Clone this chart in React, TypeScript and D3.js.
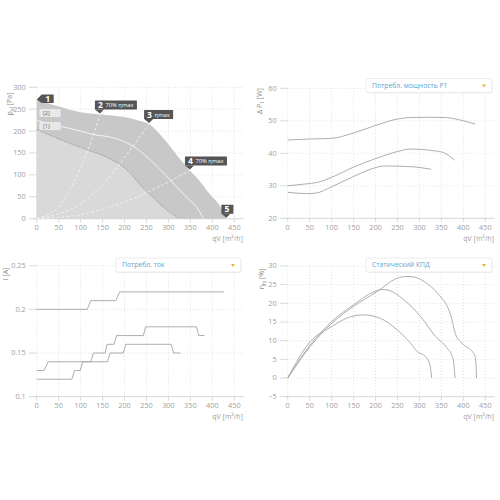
import React from "react";
import * as d3 from "d3";

// ---------- data ----------
const qTicks = [0, 50, 100, 150, 200, 250, 300, 350, 400, 450];

// pressure chart
const pTicks = [0, 50, 100, 150, 200, 250, 300];
const maxQ = [0, 50, 100, 145, 200, 235, 256, 281, 304, 327, 349, 372, 395, 418, 432];
const maxP = [272, 256, 243, 238, 232, 223, 216, 192, 165, 135, 110, 85, 55, 28, 0];
const midQ = [0, 50, 100, 130, 165, 197, 228, 260, 298, 337, 365, 380];
const midP = [224, 212, 200, 192, 187, 177, 160, 133, 95, 53, 25, 0];
const minQ = [0, 60, 110, 160, 195, 213, 235, 266, 290, 310, 325];
const minP = [204, 178, 159, 140, 120, 104, 78, 48, 25, 10, 0];
const sys2Q = [0, 40, 80, 118, 144];
const sys2P = [0, 18, 74, 160, 238];
const sys3Q = [0, 80, 150, 200, 256];
const sys3P = [0, 22, 78, 140, 216];
const sys4Q = [0, 100, 200, 280, 349];
const sys4P = [0, 9, 38, 74, 110];
const markerIds = ["1", "2", "3", "4", "5"];
const markerText = ["", "70% ηmax", "ηmax", "70% ηmax", ""];
const markerQ = [0, 144, 256, 349, 432];
const markerP = [272, 238, 216, 110, 0];

// power chart
const wTicks = [20, 30, 40, 50, 60];
const wTopQ = [0, 51, 100, 149, 203, 252, 279, 320, 360, 400, 427];
const wTopV = [44.1, 44.4, 44.6, 46.2, 48.7, 50.6, 51.0, 51.1, 51.0, 50.0, 49.0];
const wMidQ = [0, 43, 66, 100, 149, 203, 249, 279, 332, 355, 380];
const wMidV = [30.0, 30.6, 31.0, 32.6, 35.7, 38.5, 40.5, 41.3, 40.8, 40.2, 37.9];
const wBotQ = [0, 43, 62, 100, 149, 203, 218, 279, 302, 327];
const wBotV = [28.0, 27.6, 27.7, 29.7, 32.8, 35.7, 36.1, 35.9, 35.6, 35.1];

// current chart
const iTicks = [0.1, 0.15, 0.2, 0.25];
const iTopQ = [0, 115, 123, 180, 189, 427];
const iTopV = [0.2, 0.2, 0.21, 0.21, 0.22, 0.22];
const iMidQ = [0, 17, 26, 123, 129, 156, 160, 176, 182, 243, 248, 364, 369, 382];
const iMidV = [0.13, 0.13, 0.14, 0.14, 0.15, 0.15, 0.16, 0.16, 0.17, 0.17, 0.18, 0.18, 0.17, 0.17];
const iBotQ = [0, 80, 86, 99, 105, 161, 167, 197, 203, 306, 312, 327];
const iBotV = [0.12, 0.12, 0.13, 0.13, 0.14, 0.14, 0.15, 0.15, 0.16, 0.16, 0.15, 0.15];

// efficiency chart
const eTicks = [-5, 0, 5, 10, 15, 20, 25, 30];
const eLgQ = [0, 51, 100, 149, 203, 249, 272, 290, 311, 341, 371, 383, 402, 421, 427, 429, 430];
const eLgV = [0, 8.4, 14.6, 19.1, 23.1, 26.7, 27.2, 27.0, 25.8, 22.7, 16.9, 11.5, 8.8, 7.0, 5.7, 3, 0];
const eMdQ = [0, 51, 100, 150, 196, 215, 226, 265, 303, 337, 364, 375, 379, 381];
const eMdV = [0, 8.8, 15.1, 19.6, 23.1, 23.7, 23.6, 20.9, 16.4, 11.1, 7.9, 5.7, 3, 0];
const eSmQ = [0, 51, 100, 143, 173, 211, 249, 280, 295, 314, 323, 326, 328];
const eSmV = [0, 9.7, 13.75, 16.4, 16.9, 16.0, 12.9, 9.3, 7.1, 5.7, 3.9, 2, 0];

// ---------- helpers ----------
const FONT = "'Open Sans', 'DejaVu Sans', sans-serif";
const TICK = "#a0a0a0";
const GRID = "#dadada";

type Sc = d3.ScaleLinear<number, number>;

function zip(q: number[], v: number[]) {
  return q.map((x, i) => [x, v[i]] as [number, number]);
}

function Axes({ x, y, yTicks, yFmt, yLabel, xLabelY, base }: {
  x: Sc; y: Sc; yTicks: number[]; yFmt: (v: number) => string;
  yLabel: React.ReactNode; xLabelY: number; base: number;
}) {
  const x0 = x(0);
  const xr = x(472);
  const [yb, yt] = y.range();
  return (
    <g fontFamily={FONT} fontSize={7.3} fill={TICK}>
      {qTicks.map((t) => (
        <line key={"vx" + t} x1={x(t)} x2={x(t)} y1={yt} y2={yb} stroke={GRID} strokeWidth={0.8} strokeDasharray="1,2" />
      ))}
      {yTicks.map((t) => (
        <g key={"hy" + t}>
          <line x1={x0} x2={xr} y1={y(t)} y2={y(t)} stroke={GRID} strokeWidth={0.8} strokeDasharray="1,2" />
          <line x1={x0 - 8} x2={x0} y1={y(t)} y2={y(t)} stroke="#d2d2d2" strokeWidth={0.8} />
          <text x={x0 - 11} y={y(t)} dy="0.33em" textAnchor="end">{yFmt(t)}</text>
        </g>
      ))}
      <line x1={x0 - 3} x2={xr} y1={y(base)} y2={y(base)} stroke="#d2d2d2" strokeWidth={0.8} />
      {qTicks.map((t) => (
        <g key={"tx" + t}>
          <line x1={x(t)} x2={x(t)} y1={y(base)} y2={y(base) + 4} stroke="#d2d2d2" strokeWidth={0.8} />
          <text x={x(t)} y={y(base) + 9} dy="0.33em" textAnchor="middle">{t}</text>
        </g>
      ))}
      <text x={xr - 1} y={xLabelY} textAnchor="end" fontSize={7}>qV [m³/h]</text>
      {yLabel}
    </g>
  );
}

function Dropdown({ x, y, w, label }: { x: number; y: number; w: number; label: string }) {
  return (
    <g fontFamily={FONT}>
      <rect x={x + 0.5} y={y + 1} width={w} height={14} rx={2} fill="#eeeeee" />
      <rect x={x} y={y} width={w} height={14} rx={2} fill="#ffffff" stroke="#e6e6e6" strokeWidth={0.8} />
      <text x={x + 6} y={y + 7} dy="0.35em" fontSize={6.8} fill="#5fa3cf">{label}</text>
      <path d={`M${x + w - 10},${y + 6} l4,0 l-2,3 z`} fill="#f0ad3c" />
    </g>
  );
}

function RotLabel({ x, y, main, sub, rest }: { x: number; y: number; main: string; sub: string; rest: string }) {
  return (
    <text transform={`translate(${x},${y}) rotate(-90)`} textAnchor="middle" fontSize={7} fill="#8a8a8a">
      {main}
      <tspan fontSize={5} dy={1.5}>{sub}</tspan>
      <tspan dy={-1.5}>{rest}</tspan>
    </text>
  );
}

export default function App() {
  const xL = d3.scaleLinear().domain([0, 450]).range([36.7, 234.3]);
  const xR = d3.scaleLinear().domain([0, 450]).range([287.7, 485.3]);
  const yP = d3.scaleLinear().domain([0, 300]).range([218.7, 87.3]);
  const yW = d3.scaleLinear().domain([20, 60]).range([218.3, 88.3]);
  const yI = d3.scaleLinear().domain([0.1, 0.25]).range([396.7, 265.7]);
  const yE = d3.scaleLinear().domain([-5, 30]).range([396.7, 266]);

  const areaP = (q: number[], p: number[]) =>
    d3.area<[number, number]>().x((d) => xL(d[0])).y0(yP(0)).y1((d) => yP(d[1])).curve(d3.curveMonotoneX)(zip(q, p)) || "";
  const lineP = (q: number[], p: number[], curve: d3.CurveFactory = d3.curveMonotoneX) =>
    d3.line<[number, number]>().x((d) => xL(d[0])).y((d) => yP(d[1])).curve(curve)(zip(q, p)) || "";
  const lineR = (y: Sc, q: number[], v: number[], curve: d3.CurveFactory) =>
    d3.line<[number, number]>().x((d) => xR(d[0])).y((d) => y(d[1])).curve(curve)(zip(q, v)) || "";
  const lineLI = (q: number[], v: number[]) =>
    d3.line<[number, number]>().x((d) => xL(d[0])).y((d) => yI(d[1]))(zip(q, v)) || "";

  const markerW: Record<string, number> = { "70% ηmax": 42, "ηmax": 29, "": 12 };

  const markers = markerIds.map((id, i) => {
    const px = xL(markerQ[i]);
    const py = yP(markerP[i]);
    if (i === 0) {
      return (
        <g key={id}>
          <path d={`M${px},${py} L${px + 5},${py - 5} L${px + 17},${py - 5} L${px + 17},${py + 3.5} L${px + 5},${py + 3.5} Z`} fill="#555" />
          <text x={px + 11} y={py - 0.7} dy="0.35em" textAnchor="middle" fontSize={8.5} fontWeight="bold" fill="#fff">{id}</text>
        </g>
      );
    }
    const txt = markerText[i];
    const w = markerW[txt];
    const bx = px - 5;
    const by = py - 14;
    return (
      <g key={id}>
        <rect x={bx} y={by} width={w} height={9} fill="#555" rx={0.5} />
        <path d={`M${bx},${by + 9} L${bx + 9},${by + 9} L${px},${py - 1} Z`} fill="#555" />
        <text x={bx + 3} y={by + 4.7} dy="0.35em" fontSize={8.5} fontWeight="bold" fill="#fff">{id}</text>
        {txt && <text x={bx + 10.5} y={by + 4.7} dy="0.35em" fontSize={5.8} fill="#fff">{txt}</text>}
      </g>
    );
  });

  return (
    <svg width={500} height={500} style={{ position: "absolute", left: 0, top: 0 }} fontFamily={FONT}>
      <rect width={500} height={500} fill="#fff" />

      {/* ---------- pressure chart ---------- */}
      <Axes x={xL} y={yP} yTicks={pTicks} yFmt={(v) => String(v)} base={0} xLabelY={241}
        yLabel={<RotLabel x={12} y={104} main="p" sub="sf" rest=" [Pa]" />} />
      <path d={areaP(maxQ, maxP)} fill="#c8c8c8" />
      <path d={areaP(minQ, minP)} fill="#d9d9d9" />
      <path d={lineP(minQ, minP)} fill="none" stroke="#9d9d9d" strokeWidth={0.9} strokeDasharray="2,1" />
      <path d={lineP(midQ, midP)} fill="none" stroke="#f4f4f4" strokeWidth={1} />
      {[[sys2Q, sys2P], [sys3Q, sys3P], [sys4Q, sys4P]].map(([q, p], i) => (
        <path key={i} d={lineP(q, p, d3.curveCatmullRom)} fill="none" stroke="#f2f2f2" strokeWidth={0.9} strokeDasharray="3,2" />
      ))}
      <g fontFamily={FONT}>
        <rect x={39.3} y={109} width={21.5} height={8} rx={1.5} fill="#e8e8e8" />
        <text x={43} y={113} dy="0.35em" fontSize={5.5} fill="#666">[2]</text>
        <rect x={39.3} y={122} width={21.5} height={8} rx={1.5} fill="#e8e8e8" />
        <text x={43} y={126} dy="0.35em" fontSize={5.5} fill="#666">[1]</text>
      </g>
      {markers}

      {/* ---------- power chart ---------- */}
      <Axes x={xR} y={yW} yTicks={wTicks} yFmt={(v) => String(v)} base={20} xLabelY={241}
        yLabel={<RotLabel x={262} y={101} main="Δ P" sub="1" rest=" [W]" />} />
      {[[wTopQ, wTopV], [wMidQ, wMidV], [wBotQ, wBotV]].map(([q, v], i) => (
        <path key={i} d={lineR(yW, q, v, d3.curveMonotoneX)} fill="none" stroke="#a5a5a5" strokeWidth={0.9} />
      ))}
      <Dropdown x={366} y={78.5} w={126} label="Потребл. мощность P1" />

      {/* ---------- current chart ---------- */}
      <Axes x={xL} y={yI} yTicks={iTicks} yFmt={(v) => String(v)} base={0.1} xLabelY={419}
        yLabel={<RotLabel x={8} y={274} main="I [A]" sub="" rest="" />} />
      {[[iTopQ, iTopV], [iMidQ, iMidV], [iBotQ, iBotV]].map(([q, v], i) => (
        <path key={i} d={lineLI(q, v)} fill="none" stroke="#a5a5a5" strokeWidth={0.9} />
      ))}
      <Dropdown x={116} y={258} w={125} label="Потребл. ток" />

      {/* ---------- efficiency chart ---------- */}
      <Axes x={xR} y={yE} yTicks={eTicks} yFmt={(v) => String(v).replace("-", "−")} base={-5} xLabelY={419}
        yLabel={<RotLabel x={264} y={279} main="η" sub="fs" rest=" [%]" />} />
      {[[eLgQ, eLgV], [eMdQ, eMdV], [eSmQ, eSmV]].map(([q, v], i) => (
        <path key={i} d={lineR(yE, q, v, d3.curveMonotoneX)} fill="none" stroke="#a5a5a5" strokeWidth={0.9} />
      ))}
      <Dropdown x={366} y={258} w={126} label="Статический КПД" />
    </svg>
  );
}
